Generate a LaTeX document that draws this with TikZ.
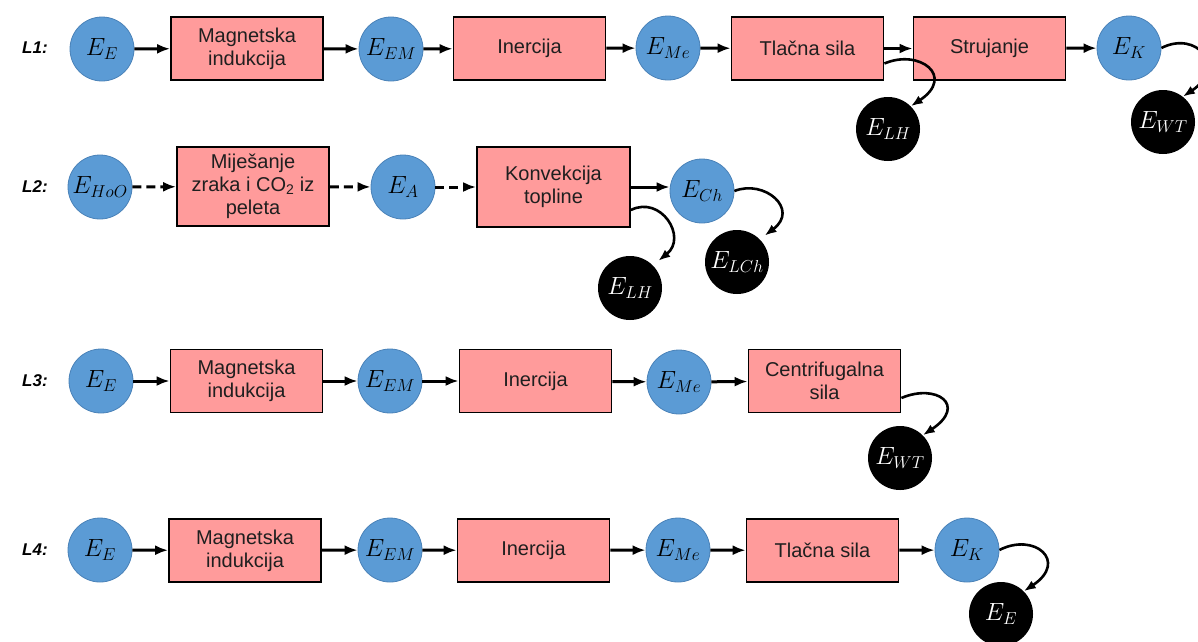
\documentclass[tikz,border=0pt]{standalone}
\usepackage{fontspec}
\setmainfont{Liberation Sans}
\usetikzlibrary{arrows.meta}
\definecolor{cblue}{HTML}{5B9BD5}
\definecolor{cbluedark}{HTML}{4A82B8}
\definecolor{cpink}{HTML}{FF9B9B}
\newcommand\myboxfont{\fontsize{20}{23}\selectfont}
\newcommand\myenfont{\fontsize{27}{30}\selectfont}
\newcommand\mylabfont{\fontsize{17}{20}\selectfont\bfseries\itshape}
\tikzset{
  en/.style={circle, fill=cblue, draw=cbluedark, line width=0.8pt, minimum size=64pt, inner sep=0pt, font=\myenfont},
  eblack/.style={circle, fill=black, text=white, minimum size=64pt, inner sep=0pt, font=\myenfont},
  pbox/.style={rectangle, fill=cpink, draw=black, line width=1.8pt, minimum width=152pt, minimum height=63pt, align=center, inner sep=2pt, text=black!88, font=\myboxfont},
  tallbox/.style={pbox, minimum height=79pt},
  arr/.style={line width=3pt, -{Latex[length=13pt,width=10pt]}},
  darr/.style={arr, dash pattern=on 9pt off 5pt},
  carr/.style={line width=2.6pt, -{Latex[length=12pt,width=9pt]}},
  lab/.style={font=\mylabfont, anchor=west, inner sep=0pt}
}
\begin{document}
\begin{tikzpicture}[x=1pt,y=-1pt]
\useasboundingbox (0,0) rectangle (1198,641);
% ---------------- L1
\node[lab] (l1) at (22,48) {L1:};
\node[en] (a1) at (102,49) {$E_{E}$};
\node[pbox] (b1) at (247,48.5) {Magnetska\\indukcija};
\node[en] (a2) at (391,49) {$E_{EM}$};
\node[pbox] (b2) at (529.5,48.5) {Inercija};
\node[en] (a3) at (668,48) {$E_{Me}$};
\node[pbox] (b3) at (807.5,48.5) {Tlačna sila};
\node[pbox] (b4) at (989.5,48.5) {Strujanje};
\node[en] (a4) at (1129,48) {$E_{K}$};
\node[eblack] (k1) at (888,129) {$E_{LH}$};
\node[eblack] (k2) at (1163,122) {$E_{WT}$};
\draw[arr] (a1) -- (b1);
\draw[arr] (b1) -- (a2);
\draw[arr] (a2) -- (b2);
\draw[arr] (b2) -- (a3);
\draw[arr] (a3) -- (b3);
\draw[arr] (b3) -- (b4);
\draw[arr] (b4) -- (a4);
\draw[carr] ([yshift=-15pt]b3.east) .. controls +(35,-15) and +(45,-30) .. (k1.45);
\draw[carr] (a4.east) .. controls +(35,-18) and +(45,-30) .. (k2.52);
% ---------------- L2
\node[lab] (l2) at (22,187) {L2:};
\node[en] (c1) at (100,187) {$E_{HoO}$};
\node[tallbox] (d1) at (253,186.5) {Miješanje\\zraka i CO\textsubscript{2} iz\\peleta};
\node[en] (c2) at (403,187) {$E_{A}$};
\node[tallbox, minimum width=153pt, minimum height=80pt] (d2) at (553.5,187) {Konvekcija\\topline};
\node[en] (c3) at (702,191) {$E_{Ch}$};
\node[eblack] (k3) at (630,288) {$E_{LH}$};
\node[eblack] (k4) at (737,262) {$E_{LCh}$};
\draw[darr] (c1) -- (d1);
\draw[darr] (d1) -- (c2);
\draw[darr] (c2) -- (d2);
\draw[arr] (d2.east) -- (d2.east -| c3.west);
\draw[carr, shorten >=7pt] ([yshift=-23pt]d2.east) .. controls +(30,-15) and +(35,-28) .. (k3.45);
\draw[carr, shorten >=6pt] (c3.east) .. controls +(30,-12) and +(40,-30) .. (k4.45);
% ---------------- L3
\node[lab] (l3) at (22,381) {L3:};
\node[en] (e1) at (101,381) {$E_{E}$};
\node[pbox] (f1) at (246.5,381) {Magnetska\\indukcija};
\node[en] (e2) at (390,381) {$E_{EM}$};
\node[pbox] (f2) at (535.5,381) {Inercija};
\node[en] (e3) at (679,382) {$E_{Me}$};
\node[pbox] (f3) at (824.5,381) {Centrifugalna\\sila};
\node[eblack] (k5) at (900,458) {$E_{WT}$};
\draw[arr] (e1) -- (f1);
\draw[arr] (f1) -- (e2);
\draw[arr] (e2) -- (f2);
\draw[arr] (f2) -- (e3);
\draw[arr] (e3) -- (f3);
\draw[carr] ([yshift=-17pt]f3.east) .. controls +(35,-15) and +(45,-30) .. (k5.45);
% ---------------- L4
\node[lab] (l4) at (22,550) {L4:};
\node[en] (g1) at (100,550) {$E_{E}$};
\node[pbox] (h1) at (245,550.5) {Magnetska\\indukcija};
\node[en] (g2) at (390,550) {$E_{EM}$};
\node[pbox] (h2) at (533.5,550.5) {Inercija};
\node[en] (g3) at (678,550) {$E_{Me}$};
\node[pbox] (h3) at (822.5,550.5) {Tlačna sila};
\node[en] (g4) at (967,550) {$E_{K}$};
\node[eblack] (k6) at (1001,614) {$E_{E}$};
\draw[arr] (g1) -- (h1);
\draw[arr] (h1) -- (g2);
\draw[arr] (g2) -- (h2);
\draw[arr] (h2) -- (g3);
\draw[arr] (g3) -- (h3);
\draw[arr] (h3) -- (g4);
\draw[carr] (g4.east) .. controls +(35,-18) and +(45,-30) .. (k6.45);
\end{tikzpicture}
\end{document}
